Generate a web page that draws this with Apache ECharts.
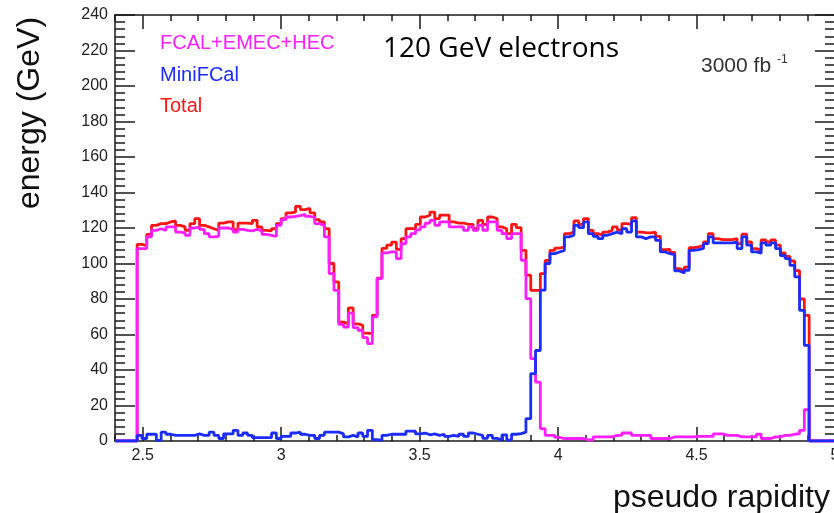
<!DOCTYPE html>
<html>
<head>
<meta charset="utf-8">
<script src="https://cdn.jsdelivr.net/npm/echarts@6/dist/echarts.min.js"></script>
<style>
html,body{margin:0;padding:0;background:#ffffff;}
#chart{width:834px;height:513px;}
</style>
</head>
<body>
<div id="chart"></div>
<script>
// ---- data ----
const binLow = 2.48;          // first filled bin edge (pseudo rapidity)
const binWidth = 0.017333;    // bin width
const xTickLabels = [2.5, 3, 3.5, 4, 4.5, 5];
const yTickLabels = [0, 20, 40, 60, 80, 100, 120, 140, 160, 180, 200, 220, 240];
const seriesNames = ['Total', 'FCAL+EMEC+HEC', 'MiniFCal'];

const total = [
 110.8,110,116.4,121.5,122.5,122.5,123.4,124,121.5,120.6,
 118.7,122.5,125.3,121.5,120.6,119.6,118.7,122.8,123.4,123.4,
 119.1,122.8,122.8,122.5,124.3,120.6,118.7,118.4,119.6,122.5,
 125.3,128.5,129,132.2,130.4,131,128.5,124.7,123.4,119.6,
 100,89.6,67,66,75,66,65.2,60.8,60.5,70.8,
 91.8,108.5,110.3,112,108,114,119.6,119.6,122,126.2,
 127.2,129,125.3,127.2,127.2,123.4,122.8,122.8,122,122,
 119.6,124.3,122,126.2,125.3,120.6,119.6,116.8,122,120.2,
 107.4,93.4,84.9,84.9,94.3,101.8,107.4,108.7,109.3,116.8,
 117.7,124,122,125.3,118.7,116.8,115.9,117.7,118.7,120.6,
 119,122.5,122,125.8,117.7,117.4,117.2,117.7,115.3,107.8,
 108,106.3,97.1,96,98,108.9,109.3,110.3,112.1,116.8,
 114,113.5,113.5,113.5,114,111.2,116.5,112.1,108.4,107.4,
 113.3,112.1,113.3,110.3,106,104,101.4,96,80,70.8
];
const fcalEmecHec = [
 108.4,108.4,115,118.7,119.6,118.7,120.6,120.6,117.7,117.2,
 115.9,120,120.6,119.2,116.8,115,115.3,120,120,119.2,
 117.7,119.2,118.7,118.4,119.2,118.4,116.4,115.9,115.3,121.5,
 124.7,126.2,126.5,127,127.7,126.5,126,122.5,121.5,115,
 94.3,84.9,65.7,64.2,72,63.9,62.4,58.2,54.9,69.9,
 91.5,106,106.5,106.5,102.8,111.2,115,116.8,119,120.6,
 122.8,124.3,121.5,123.4,123.4,120.6,120.6,120.6,118.7,120.6,
 118.7,121.5,118.7,123.4,123.4,118.7,116.8,114,116.8,116.8,
 101.8,80.2,46.4,33.2,7,3.2,3.2,2,1.4,1.4,
 1.4,1.4,1.4,0.6,0.6,2.3,2.3,2.3,2.3,3.2,
 3.2,4.5,4.5,3.2,3.2,3.2,3.2,1.4,1.4,1.4,
 1.4,2.3,2.3,2.3,2.3,2.3,2.6,2.6,2.6,2.6,
 4,4,3.2,3.2,3.2,2.3,2.3,2.3,2.3,3.8,
 1.4,1.4,2.3,2.3,3.2,3.2,3.8,4.2,6,17.7
];
const miniFCal = [
 3.2,1.4,3.8,3.8,0.3,5,3.8,3.2,3.2,3.2,
 3.2,3.2,4,3.2,3.2,5,3.2,1.4,4,4,
 6,3.2,4.5,3.2,1.9,1.9,1.9,1.9,4.5,1.4,
 2.6,2.6,4.5,5,3.8,3.2,3.2,1.4,3.2,5,
 5,5,4,2.3,3.2,2.3,4.5,2.6,6,0.8,
 0.3,3.2,3.8,3.8,3.8,3.8,5.6,5.5,4,4.5,
 3.5,4,3.2,3.8,2.6,3.2,2.6,3.8,2.6,4.5,
 3.8,3.2,1.5,3.2,1.5,0.5,3.5,0.5,3.8,4.2,
 5,12.6,38,51,85,100,105.6,106.5,107.4,115,
 115.9,121.5,120.2,123.4,116.8,115.3,114,115.9,116.8,117.7,
 116.8,119.6,117.7,124,115,114,115,115,113,106.5,
 105.6,105,95.8,94.7,96.2,107.4,107.8,108.5,111.2,115,
 111.6,111.6,111.6,111.6,112,108.4,115,110.3,106.5,105.9,
 111.6,110.3,111.6,108.4,104.5,102.8,99,92.5,73.6,53.9
];

const X_MIN = 2.4, X_MAX = 5.0, Y_MIN = 0, Y_MAX = 240;

// histogram outline points (bin edges), drawn with step:'end'
function histPoints(vals) {
  const pts = [[X_MIN, 0], [binLow, 0]];
  vals.forEach((v, i) => pts.push([binLow + i * binWidth, v]));
  const end = binLow + vals.length * binWidth;
  pts.push([end, vals[vals.length - 1]]);
  pts.push([end, 0]);
  pts.push([X_MAX, 0]);
  return pts;
}

const chart = echarts.init(document.getElementById('chart'), null, {renderer: 'canvas'});
const AX = '#1a1a1a';
const lblFont = 'Liberation Sans, Arial, sans-serif';

function xAx(pos, major, showLabels) {
  const a = {
    type: 'value', position: pos, min: X_MIN, max: X_MAX,
    axisLine: {show: !major, lineStyle: {color: AX, width: 1.5}},
    axisTick: {show: true, inside: true, length: major ? 14 : 6, lineStyle: {color: AX, width: 1.5}},
    axisLabel: {show: false},
    splitLine: {show: false}
  };
  if (major) {
    a.axisTick.customValues = xTickLabels;
  } else {
    a.interval = 0.1;
  }
  if (showLabels) {
    a.axisLabel = {show: true, customValues: xTickLabels, margin: 7, fontSize: 16,
      color: '#222', fontFamily: lblFont, formatter: v => String(v)};
  }
  return a;
}
function yAx(pos, showLabels) {
  return {
    type: 'value', position: pos, min: Y_MIN, max: Y_MAX, interval: 20,
    axisLine: {show: true, lineStyle: {color: AX, width: 1.5}},
    axisTick: {show: true, inside: true, length: 20, lineStyle: {color: AX, width: 1.5}},
    minorTick: {show: true, splitNumber: 5, length: 10, lineStyle: {color: AX, width: 1.5}},
    axisLabel: {show: showLabels, margin: 7, fontSize: 16, color: '#222', fontFamily: lblFont},
    splitLine: {show: false}, minorSplitLine: {show: false}
  };
}

const colors = ['#ff1414', '#ff1eff', '#1a2cff'];
const datasets = [total, fcalEmecHec, miniFCal];

chart.setOption({
  animation: false,
  backgroundColor: '#ffffff',
  grid: {left: 115, top: 15, width: 720, height: 426, containLabel: false, outerBoundsMode: 'none'},
  xAxis: [xAx('bottom', false, false), xAx('bottom', true, true), xAx('top', false, false), xAx('top', true, false)],
  yAxis: [yAx('left', true), yAx('right', false)],
  series: datasets.map((d, i) => ({
    name: seriesNames[i], type: 'line', xAxisIndex: 0, yAxisIndex: 0,
    step: 'end', showSymbol: false, symbol: 'none', silent: true,
    lineStyle: {color: colors[i], width: 2.8}, z: 3 + i,
    data: histPoints(d)
  })),
  graphic: [
    {type: 'text', x: 30, y: 113, rotation: Math.PI / 2,
     style: {text: 'energy (GeV)', font: '32px "Liberation Sans", Arial, sans-serif', fill: '#111', align: 'center', verticalAlign: 'middle'}},
    {type: 'text', x: 830, y: 498,
     style: {text: 'pseudo rapidity', font: '32px "Liberation Sans", Arial, sans-serif', fill: '#111', align: 'right', verticalAlign: 'middle'}},
    {type: 'text', x: 383, y: 49,
     style: {text: '120 GeV electrons', font: '28px "Open Sans", sans-serif', fill: '#000', align: 'left', verticalAlign: 'middle'}},
    {type: 'text', x: 160, y: 43.5,
     style: {text: seriesNames[1], font: '20px "Liberation Sans", Arial, sans-serif', fill: colors[1], align: 'left', verticalAlign: 'middle'}},
    {type: 'text', x: 160, y: 75,
     style: {text: seriesNames[2], font: '20px "Liberation Sans", Arial, sans-serif', fill: colors[2], align: 'left', verticalAlign: 'middle'}},
    {type: 'text', x: 160, y: 106,
     style: {text: seriesNames[0], font: '20px "Liberation Sans", Arial, sans-serif', fill: colors[0], align: 'left', verticalAlign: 'middle'}},
    {type: 'text', x: 701, y: 66,
     style: {text: '3000 fb', font: '21px "Liberation Sans", Arial, sans-serif', fill: '#333', align: 'left', verticalAlign: 'middle'}},
    {type: 'text', x: 777, y: 60,
     style: {text: '-1', font: '12px "Liberation Sans", Arial, sans-serif', fill: '#333', align: 'left', verticalAlign: 'middle'}}
  ]
});
</script>
</body>
</html>
